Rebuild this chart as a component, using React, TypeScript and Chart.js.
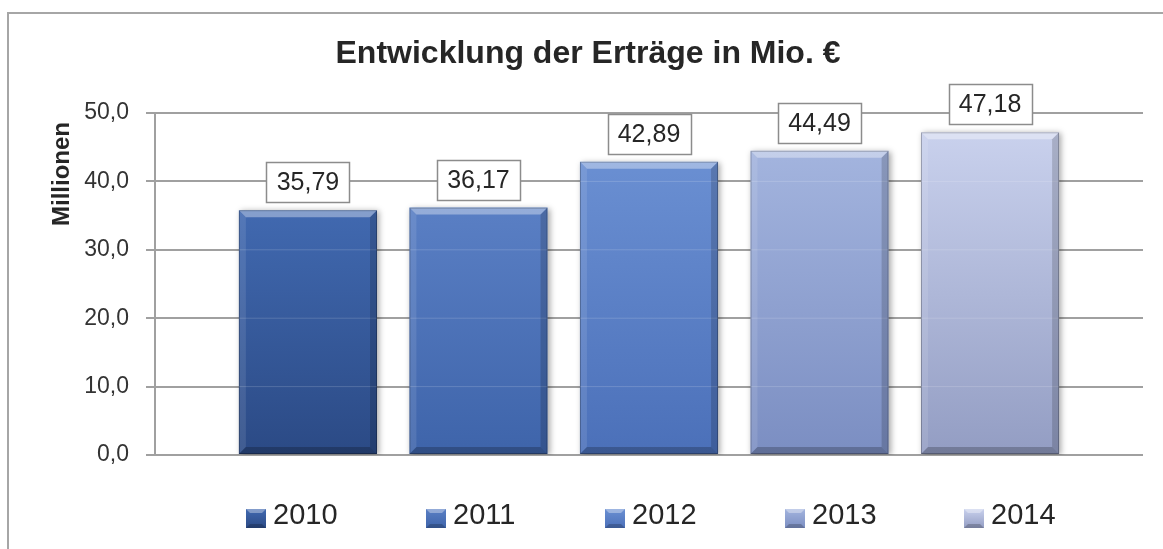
import React, { useEffect, useRef } from 'react';
import { Chart, registerables } from 'chart.js';

Chart.register(...registerables);

const FONT = "'Liberation Sans', Arial, sans-serif";

const chartTitle = 'Entwicklung der Erträge in Mio. €';
const yAxisTitle = 'Millionen';
const categories = [''];
const years = ['2010', '2011', '2012', '2013', '2014'];
const values = [35.79, 36.17, 42.89, 44.49, 47.18];
const yTickValues = [0, 10, 20, 30, 40, 50];
const topColors = ['#4169b0', '#5a7fc4', '#6a8fd2', '#a3b4de', '#c9d1ed'];
const bottomColors = ['#2b4a85', '#3e64aa', '#4b70b9', '#7b8ec2', '#939dc3'];
const midColors = ['#355a9c', '#4a71b7', '#5a80c6', '#8ea1d0', '#afb8dc'];

const fmt = (v: number, d: number) => v.toFixed(d).replace('.', ',');

const GRID = '#a0a0a0';

function poly(ctx: CanvasRenderingContext2D, pts: number[][], fill: string) {
  ctx.beginPath();
  ctx.moveTo(pts[0][0], pts[0][1]);
  for (let k = 1; k < pts.length; k++) ctx.lineTo(pts[k][0], pts[k][1]);
  ctx.closePath();
  ctx.fillStyle = fill;
  ctx.fill();
}

const barDecor = {
  id: 'barDecor',
  beforeDatasetsDraw(chart: any) {
    const c = chart.ctx;
    c.save();
    c.shadowColor = 'rgba(0,0,0,0.35)';
    c.shadowBlur = 6;
    c.shadowOffsetX = 2;
    c.shadowOffsetY = 1;
  },
  afterDatasetsDraw(chart: any) {
    const ctx = chart.ctx as CanvasRenderingContext2D;
    ctx.restore();
    const ys = chart.scales.y;
    chart.data.datasets.forEach((ds: any, i: number) => {
      const meta = chart.getDatasetMeta(i);
      meta.data.forEach((el: any, j: number) => {
        const { x, y, base, width } = el.getProps(['x', 'y', 'base', 'width'], true);
        const x0 = x - width / 2;
        const x1 = x + width / 2;
        const t = y;
        const b = base;
        const e = 7;
        ctx.save();
        ctx.beginPath();
        ctx.rect(x0, t, width, b - t);
        ctx.clip();
        ctx.strokeStyle = 'rgba(255,255,255,0.16)';
        ctx.lineWidth = 1;
        ys.ticks.forEach((tk: any) => {
          const py = ys.getPixelForValue(tk.value);
          if (py > t + 2 && py < b - 2) {
            ctx.beginPath();
            ctx.moveTo(x0, py);
            ctx.lineTo(x1, py);
            ctx.stroke();
          }
        });
        poly(ctx, [[x0, t], [x1, t], [x1 - e, t + e], [x0 + e, t + e]], 'rgba(255,255,255,0.36)');
        poly(ctx, [[x0, t], [x0 + e, t + e], [x0 + e, b - e], [x0, b]], 'rgba(255,255,255,0.10)');
        poly(ctx, [[x1, t], [x1 - e, t + e], [x1 - e, b - e], [x1, b]], 'rgba(0,0,0,0.16)');
        poly(ctx, [[x0, b], [x0 + e, b - e], [x1 - e, b - e], [x1, b]], 'rgba(0,0,0,0.22)');
        ctx.strokeStyle = 'rgba(0,0,0,0.25)';
        ctx.lineWidth = 1;
        ctx.strokeRect(x0 + 0.5, t + 0.5, width - 1, b - t - 1);
        ctx.restore();

        // value label box
        const v = ds.data[j] as number;
        const txt = fmt(v, 2);
        ctx.save();
        ctx.font = `25px ${FONT}`;
        const tw = ctx.measureText(txt).width;
        const bw = Math.round(tw + 20);
        const bh = 40;
        const bx = Math.round(x - bw / 2) + 0.5;
        const by = Math.round(t - 8 - bh) + 0.5;
        ctx.fillStyle = '#ffffff';
        ctx.fillRect(bx, by, bw, bh);
        ctx.strokeStyle = '#8c8c8c';
        ctx.lineWidth = 1.5;
        ctx.strokeRect(bx, by, bw, bh);
        ctx.fillStyle = '#262626';
        ctx.textAlign = 'center';
        ctx.textBaseline = 'middle';
        ctx.fillText(txt, x, by + bh / 2 + 1);
        ctx.restore();
      });
    });
  },
  afterDraw(chart: any) {
    const ctx = chart.ctx as CanvasRenderingContext2D;
    const area = chart.chartArea;
    // y axis title
    ctx.save();
    ctx.translate(69, 174);
    ctx.rotate(-Math.PI / 2);
    ctx.font = `bold 24px ${FONT}`;
    ctx.fillStyle = '#262626';
    ctx.textAlign = 'center';
    ctx.textBaseline = 'alphabetic';
    ctx.fillText(yAxisTitle, 0, 0);
    ctx.restore();

    // legend
    const ds = chart.data.datasets;
    const n = ds.length;
    ctx.save();
    ctx.font = `29px ${FONT}`;
    const box = 20;
    const boxH = 19;
    const gap = 7;
    const stride = 179.5;
    const lastW = box + gap + ctx.measureText(ds[n - 1].label).width;
    const total = stride * (n - 1) + lastW;
    const cx = (area.left + area.right) / 2 + 2;
    const sx = cx - total / 2;
    const cy = area.bottom + 61;
    ds.forEach((d: any, k: number) => {
      const bx = Math.round(sx + k * stride);
      const by = Math.round(cy - 7);
      const g = ctx.createLinearGradient(0, by, 0, by + boxH);
      g.addColorStop(0, topColors[k]);
      g.addColorStop(1, bottomColors[k]);
      ctx.fillStyle = g;
      ctx.fillRect(bx, by, box, boxH);
      poly(ctx, [[bx, by], [bx + box, by], [bx + box - 4, by + 4], [bx + 4, by + 4]], 'rgba(255,255,255,0.35)');
      poly(ctx, [[bx, by + boxH], [bx + 4, by + boxH - 4], [bx + box - 4, by + boxH - 4], [bx + box, by + boxH]], 'rgba(0,0,0,0.2)');
      ctx.fillStyle = '#262626';
      ctx.textAlign = 'left';
      ctx.textBaseline = 'middle';
      ctx.fillText(d.label, bx + box + gap, cy);
    });
    ctx.restore();
  },
};

export default function App() {
  const ref = useRef<HTMLCanvasElement>(null);

  useEffect(() => {
    if (!ref.current) return;
    const datasets = years.map((yr, i) => ({
      label: yr,
      data: [values[i]],
      backgroundColor: (c: any) => {
        const chart = c.chart;
        const ys = chart.scales && chart.scales.y;
        if (!ys || c.type !== 'data' || !c.parsed) return midColors[i];
        const top = ys.getPixelForValue(c.parsed.y);
        const bot = ys.getPixelForValue(0);
        if (!isFinite(top) || !isFinite(bot)) return midColors[i];
        const g = chart.ctx.createLinearGradient(0, top, 0, bot);
        g.addColorStop(0, topColors[i]);
        g.addColorStop(1, bottomColors[i]);
        return g;
      },
      borderWidth: 0,
      categoryPercentage: 0.863,
      barPercentage: 0.81,
    }));

    const chart = new Chart(ref.current, {
      type: 'bar',
      data: { labels: categories, datasets },
      plugins: [barDecor],
      options: {
        responsive: false,
        animation: false,
        devicePixelRatio: 1,
        layout: { padding: { left: 13, right: 0, top: 0, bottom: 94 } },
        plugins: {
          legend: { display: false },
          tooltip: { enabled: false },
          title: {
            display: true,
            text: chartTitle,
            color: '#262626',
            font: { family: FONT, size: 32, weight: 'bold' },
            padding: { top: 35, bottom: 39.6 },
          },
        },
        scales: {
          x: {
            type: 'category',
            display: false,
          },
          y: {
            type: 'linear',
            position: 'left',
            min: 0,
            max: 50,
            afterBuildTicks: (s: any) => {
              s.ticks = yTickValues.map((v) => ({ value: v }));
            },
            afterFit: (s: any) => {
              s.width = 142;
            },
            ticks: {
              color: '#333333',
              font: { family: FONT, size: 23 },
              padding: 17,
              callback: (v: any) => fmt(Number(v), 1),
            },
            grid: { color: GRID, lineWidth: 2, tickLength: 9, drawTicks: true },
            border: { display: true, color: GRID, width: 2 },
          },
          yR: {
            type: 'linear',
            position: 'right',
            display: true,
            afterFit: (s: any) => {
              s.width = 20;
            },
            ticks: { display: false },
            grid: { display: false },
            border: { display: false },
          },
        },
      } as any,
    });
    return () => chart.destroy();
  }, []);

  return (
    <div
      style={{
        position: 'fixed',
        left: 0,
        top: 0,
        width: 1163,
        height: 549,
        background: '#ffffff',
        overflow: 'hidden',
      }}
    >
      <div
        style={{
          position: 'absolute',
          left: 7,
          top: 12,
          width: 1300,
          height: 700,
          borderLeft: '2px solid #a6a6a6',
          borderTop: '2px solid #a6a6a6',
        }}
      />
      <canvas
        ref={ref}
        width={1163}
        height={549}
        style={{ position: 'absolute', left: 0, top: 0, width: 1163, height: 549 }}
      />
    </div>
  );
}
